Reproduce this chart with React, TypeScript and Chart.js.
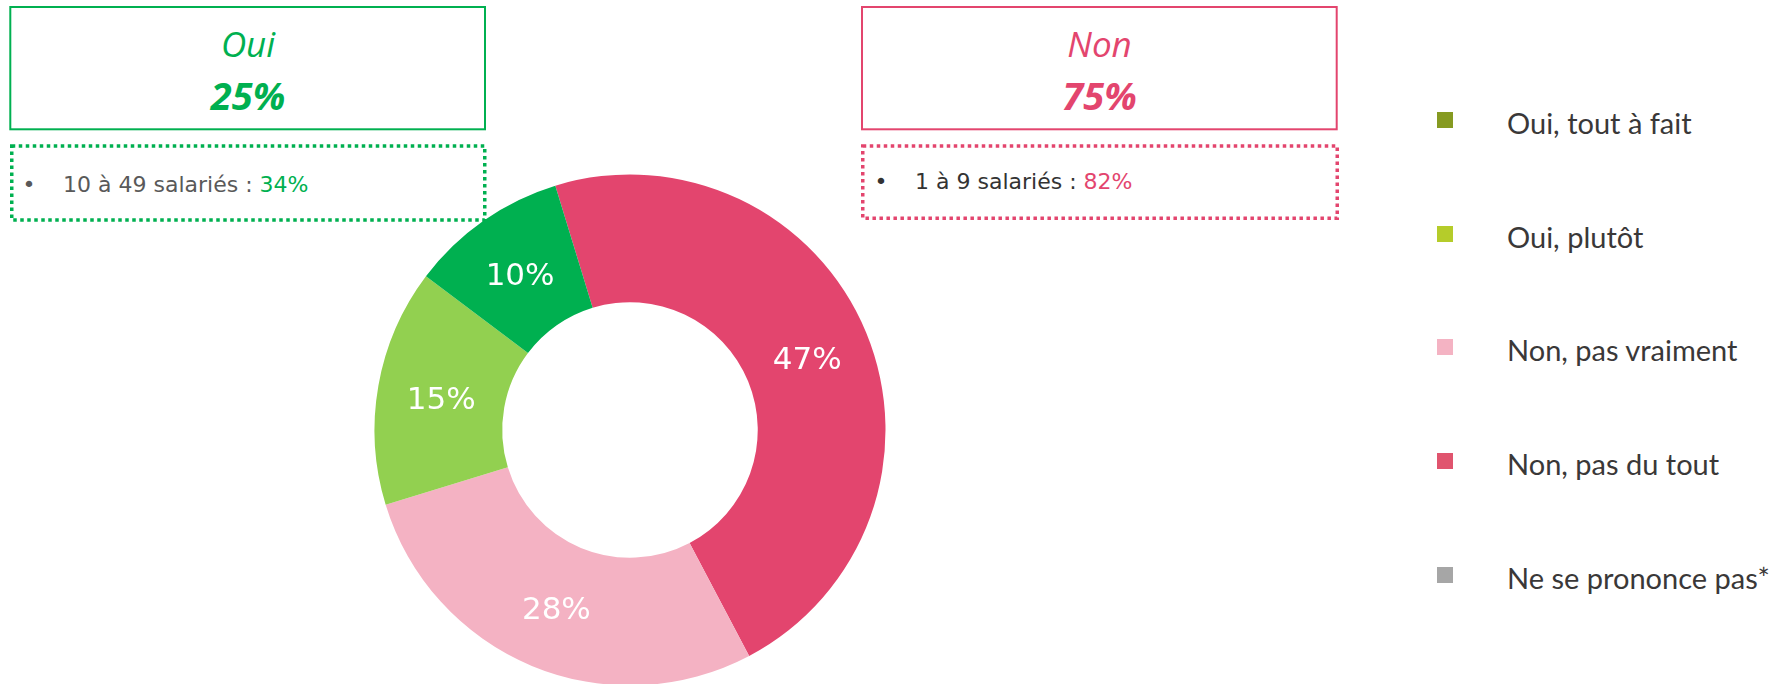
import React, { useEffect, useRef } from "react";
import { Chart, registerables } from "chart.js";

Chart.register(...registerables);

const sliceLabels = ["Non, pas du tout", "Non, pas vraiment", "Oui, plutôt", "Oui, tout à fait", "Ne se prononce pas*"];
const sliceValues = [47, 28, 15, 10, 0];
const sliceColors = ["#E3456E", "#F4B2C3", "#92D050", "#00B050", "#A6A6A6"];

const legendLabels = ["Oui, tout à fait", "Oui, plutôt", "Non, pas vraiment", "Non, pas du tout", "Ne se prononce pas*"];
const legendColors = ["#869A21", "#B5CC2A", "#F4B3C3", "#E0546E", "#A6A6A6"];

const ouiTitle = "Oui";
const ouiTotal = "25%";
const ouiDetailLabel = "10 à 49 salariés : ";
const ouiDetailValue = "34%";
const nonTitle = "Non";
const nonTotal = "75%";
const nonDetailLabel = "1 à 9 salariés : ";
const nonDetailValue = "82%";

const GREEN = "#00B050";
const PINK = "#E3456E";

const labelPlugin = {
  id: "sliceLabels",
  afterDatasetsDraw(chart: any) {
    const ctx = chart.ctx;
    const meta = chart.getDatasetMeta(0);
    const data = chart.data.datasets[0].data as number[];
    ctx.save();
    ctx.fillStyle = "#FFFFFF";
    ctx.font = '31px "DejaVu Sans"';
    ctx.textAlign = "center";
    ctx.textBaseline = "middle";
    meta.data.forEach((arc: any, i: number) => {
      const v = data[i];
      if (!v) return;
      const p = arc.tooltipPosition();
      ctx.fillText(`${v}%`, p.x, p.y + 4);
    });
    ctx.restore();
  },
};

function App() {
  const canvasRef = useRef<HTMLCanvasElement>(null);

  useEffect(() => {
    if (!canvasRef.current) return;
    const chart = new Chart(canvasRef.current, {
      type: "doughnut",
      data: {
        labels: sliceLabels,
        datasets: [
          {
            data: sliceValues,
            backgroundColor: sliceColors,
            borderWidth: 0,
            hoverOffset: 0,
            offset: 0,
          },
        ],
      },
      options: {
        responsive: false,
        animation: false,
        rotation: -17,
        cutout: "50%",
        radius: 255.5,
        layout: { padding: 0 },
        plugins: {
          legend: { display: false },
          tooltip: { enabled: false },
        },
      },
      plugins: [labelPlugin],
    });
    return () => chart.destroy();
  }, []);

  const textLine = (
    text: React.ReactNode,
    left: number,
    top: number,
    width: number,
    font: string,
    size: number,
    color: string,
    extra: React.CSSProperties = {}
  ) => (
    <div
      style={{
        position: "absolute",
        left,
        top,
        width,
        textAlign: "center",
        fontFamily: font,
        fontSize: size,
        lineHeight: 1,
        color,
        whiteSpace: "nowrap",
        ...extra,
      }}
    >
      {text}
    </div>
  );

  const legendTops = [112, 226, 339, 453, 567];

  return (
    <div
      style={{
        position: "fixed",
        left: 0,
        top: 0,
        width: 1782,
        height: 684,
        overflow: "hidden",
        background: "#FFFFFF",
      }}
    >
      <svg width={1782} height={684} style={{ position: "absolute", left: 0, top: 0 }}>
        <rect x={10.3} y={7} width={474.7} height={122.3} fill="none" stroke={GREEN} strokeWidth={2} />
        <rect x={11.75} y={146} width={473} height={74} fill="none" stroke={GREEN} strokeWidth={3.5} strokeDasharray="3.5 3.5" />
        <rect x={862} y={7} width={474.7} height={122.3} fill="none" stroke={PINK} strokeWidth={2} />
        <rect x={862.75} y={146} width={474.5} height={72.2} fill="none" stroke={PINK} strokeWidth={3.5} strokeDasharray="3.5 3.5" />
      </svg>

      {textLine(ouiTitle, 10, 26, 476, '"Open Sans"', 35, GREEN, { fontStyle: "italic" })}
      {textLine(ouiTotal, 10, 76, 476, '"Open Sans"', 38, GREEN, { fontStyle: "italic", fontWeight: 700 })}
      {textLine(nonTitle, 862, 26, 475, '"Open Sans"', 35, PINK, { fontStyle: "italic" })}
      {textLine(nonTotal, 862, 76, 475, '"Open Sans"', 38, PINK, { fontStyle: "italic", fontWeight: 700 })}

      {textLine("•", 22, 174, 14, '"DejaVu Sans"', 22, "#595959")}
      {textLine(
        <>
          {ouiDetailLabel}
          <span style={{ color: GREEN }}>{ouiDetailValue}</span>
        </>,
        63,
        174,
        400,
        '"DejaVu Sans"',
        22,
        "#595959",
        { textAlign: "left" }
      )}
      {textLine("•", 874, 171, 14, '"DejaVu Sans"', 22, "#333333")}
      {textLine(
        <>
          {nonDetailLabel}
          <span style={{ color: PINK }}>{nonDetailValue}</span>
        </>,
        915,
        171,
        400,
        '"DejaVu Sans"',
        22,
        "#333333",
        { textAlign: "left" }
      )}

      <canvas
        ref={canvasRef}
        width={540}
        height={540}
        style={{ position: "absolute", left: 360, top: 160, width: 540, height: 540 }}
      />

      {legendLabels.map((lab, i) => (
        <React.Fragment key={lab}>
          <div
            style={{
              position: "absolute",
              left: 1437,
              top: legendTops[i],
              width: 16,
              height: 16,
              background: legendColors[i],
            }}
          />
          <div
            style={{
              position: "absolute",
              left: 1507,
              top: legendTops[i] - 4,
              fontFamily: "Lato",
              fontSize: 29,
              lineHeight: 1,
              color: "#3A3838",
              whiteSpace: "nowrap",
            }}
          >
            {lab}
          </div>
        </React.Fragment>
      ))}
    </div>
  );
}

export default App;
